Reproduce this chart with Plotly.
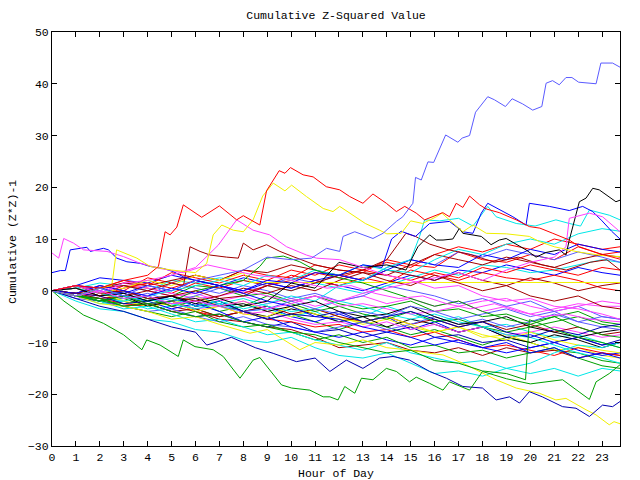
import plotly.graph_objects as go

# ---------------- data (hours, cumulative z^2-1 values) ----------------
hours = [0, 1, 2, 3, 4, 5, 6, 7, 8, 9, 10, 11, 12, 13, 14, 15, 16, 17, 18, 19, 20, 21, 22, 23, 23.75]
x_ticks = list(range(0, 24))
y_ticks = [-30, -20, -10, 0, 10, 20, 30, 40, 50]

# distinctive runs
a_x = [0, 1, 2, 3, 4, 5, 6, 7, 8, 9, 10, 10.85, 11.48, 12.03, 12.17, 12.66, 13.42, 13.84, 14.4, 14.67, 15.09,
       15.2, 15.44, 15.72, 15.96, 16.46, 16.97, 17.15, 17.46, 17.71, 18.22, 18.5, 18.96, 19.24, 19.68, 20.1,
       20.48, 20.66, 20.93, 21.21, 21.49, 21.74, 22.02, 22.75, 22.95, 23.44, 23.75]
a_y = [0, -1, 0.5, -1, 1, 0, 2, 3, 4, 6.5, 6, 6.3, 8.2, 7.6, 10.5, 11.4, 10.1, 11.1, 13.4, 14.3, 16.9,
       21.9, 21.4, 24.9, 24.8, 30.1, 28.7, 29.5, 30.0, 34.5, 37.5, 36.9, 35.6, 37.1, 36.1, 34.9,
       35.6, 40.1, 40.6, 39.8, 41.2, 41.2, 40.3, 40.0, 44.0, 44.0, 43.2]

b_x = [0, 1, 2, 3, 4, 4.45, 4.73, 4.94, 5.22, 5.49, 6.26, 7.0, 7.72, 8.0, 8.69, 8.97, 9.5, 9.74, 9.97, 10.5,
       10.92, 11.47, 12.03, 12.45, 13.0, 13.42, 13.98, 14.4, 14.75, 15.23, 15.58, 16.34, 16.62, 16.9, 17.18,
       17.46, 17.88, 18.16, 18.7, 19.41, 19.96, 20.4, 20.94, 21.63, 22.05, 22.88, 23.75]
b_y = [0, 1, 0.5, 2, 3, 4.7, 11.4, 10.8, 12.3, 16.6, 14.2, 16.4, 13.7, 14.5, 12.7, 19.3, 23.2, 22.7, 23.8, 22.4,
       22.0, 20.1, 19.5, 18.2, 16.9, 18.7, 16.9, 15.3, 16.3, 15.0, 13.7, 15.1, 14.3, 16.9, 16.1,
       18.3, 16.6, 15.8, 15.1, 13.7, 12.4, 12.1, 11.1, 9.8, 8.5, 7.2, 6.1]

c_x = [0, 1, 2, 2.5, 2.7, 3.55, 4.1, 5, 6, 6.47, 6.74, 7.1, 7.58, 8.0, 8.41, 8.81, 9.25, 9.74, 10.02, 10.64,
       11.34, 11.75, 12.03, 12.45, 13.1, 13.7, 14.0, 14.6, 15.0, 15.5, 16.07, 16.3, 17.18, 17.6, 18.16, 19.0,
       19.96, 20.38, 21, 22, 23, 23.75]
c_y = [0, -1, 0.5, 1, 7.9, 6.3, 4.7, 4, 3.5, 5.3, 10.8, 12.7, 11.7, 11.4, 13.7, 18.3, 20.8, 19.3, 20.4, 18.2,
       15.9, 15.3, 16.3, 15.0, 13.0, 11.7, 11.0, 11.1, 13.5, 13.0, 14.3, 15.0, 11.4, 12.7, 11.1, 11.0,
       10.5, 9.5, 8.5, 7.5, 6.8, 6.6]

d_x = [0, 0.28, 0.49, 0.9, 1.32, 2.3, 2.99, 3.69, 4.52, 5.5, 6.5, 7.5, 8.5, 9.5, 10.5, 11.5, 12.5, 13.5, 14.5,
       15.5, 16.5, 17.5, 18.5, 19.5, 20.5, 21.5, 22.5, 23.75]
d_y = [7.3, 6.3, 10.1, 9.2, 7.9, 7.6, 6.6, 5.3, 4.3, 3.5, 5, 4, 3, 2.5, 1.5, 0.5, 1, -0.5, -1.5,
       -1, -2.5, -3.5, -2.5, -4, -5, -4.5, -5.5, -6]

e_x = [0, 1, 2, 3, 4, 5, 6, 6.95, 7.72, 8.41, 9.1, 9.81, 10.64, 11.06, 12.03, 13, 14, 15, 16, 17, 18, 19, 20,
       21, 22, 23, 23.75]
e_y = [0, 1, -0.5, 1.5, 2, 3, 4.5, 8.8, 13.7, 11.7, 10.8, 8.5, 6.9, 6.3, 6.0, 4.5, 3, 2, 0.5, 1, -1, -2, -1.5,
       -3, -3.5, -4.5, -5.5]

f_x = [0, 1, 2, 3, 4, 5, 6, 7, 8, 9, 10, 11, 12, 13, 14, 15, 16, 17, 18, 19, 20, 21, 21.49, 21.63, 22.47,
       23.02, 23.75]
f_y = [0, -1, 0, -1.5, -1, -2.5, -2, -3, -2, -3.5, -2.5, -1, -2, -0.5, 0.5, 1.5, 2.5, 3.5, 2, 4, 5.5, 6.5,
       8.5, 14.0, 15.0, 14.3, 11.4]

g_x = [0, 1, 2, 3, 4, 5, 6, 7, 8, 9, 10, 11, 12, 13, 14, 14.8, 15.3, 15.79, 16.07, 16.35, 16.76, 17.04, 17.18,
       17.6, 17.95, 18.36, 18.7, 18.99, 19.41, 19.82, 20.24, 20.66, 21.21, 21.49, 21.63, 21.91, 22.05, 22.33,
       22.61, 22.88, 23.3, 23.58, 23.75]
g_y = [0, 0.5, -1, -0.5, -2, -1, -2.5, -1.5, -3, -2, 1.5, 0.5, 5.5, 4.5, 5, 4, 8.5, 10.8, 9.8, 9.8, 10.0,
       12.1, 11.1, 10.8, 10.5, 8.9, 9.8, 10.1, 8.9, 7.9, 6.5, 7.4, 7.9, 6.9, 9.8, 15.0, 17.2, 17.9, 19.8, 19.5,
       18.2, 17.2, 17.5]

h_x = [0, 0.35, 0.56, 0.76, 1.18, 1.46, 1.6, 1.88, 2.15, 2.36, 2.71, 3.13, 3.69, 4.1, 4.66, 5.07, 5.49, 6, 7,
       8, 9, 10, 11, 12, 13, 14, 15, 16, 17, 18, 19, 20, 21, 22, 23, 23.75]
h_y = [3.5, 3.9, 3.9, 7.9, 8.2, 8.4, 7.6, 7.9, 8.2, 7.9, 6.3, 5.6, 5.3, 4.7, 4.3, 3.7, 2.7, 2, 1, -0.5, -2,
       -3, -5, -5.5, -7, -8, -9, -10.5, -9.5, -11, -10, -12, -11, -13, -12, -13]

i_x = [0, 1, 2, 3, 4, 5, 6, 7, 8, 9, 10, 11, 12, 13, 13.8, 14.2, 14.6, 15.2, 15.79, 16.62, 17.18, 17.6, 17.95,
       18.22, 19.27, 19.82, 19.96, 20.8, 21.63, 22.19, 22.61, 23, 23.4, 23.75]
i_y = [0, -0.5, 1, 0, -1, 0.5, -0.5, 1, 0, 2, 1.5, 3.5, 3, 5, 4.5, 10, 11.5, 10.5, 13.0, 13.4, 11.4, 11.1, 15,
       16.9, 14.3, 12.7, 16.9, 16.3, 15.5, 16.3, 15.3, 13.5, 11.5, 10]

j_x = [0, 1, 2, 3, 4, 5, 6, 7, 8, 9, 10, 11, 12, 13, 14, 15, 15.37, 15.58, 16.2, 17, 17.6, 18.22, 18.57, 19.41,
       20.2, 21.07, 21.63, 22.1, 22.47, 23.3, 23.75]
j_y = [0, -1, 0.5, -1, -2, -1.5, -3, -2, -3.5, -2.5, -1, -2, 1, 2, 4.5, 6, 10.5, 13.7, 13.5, 14, 12.5, 16.3,
       14.3, 13.0, 12.5, 13.7, 13.0, 12.5, 15.6, 14.6, 13.7]

k_x = [0, 1, 2, 3, 4, 5, 5.5, 5.77, 6.19, 6.61, 7.3, 7.79, 8.0, 8.41, 8.97, 9.53, 10.08, 11, 12, 13, 14, 15,
       16, 17, 18, 19, 20, 21, 22, 23, 23.75]
k_y = [0, -0.5, 0.5, 1, 0, 1.5, 1, 8.5, 7.6, 6.9, 6.5, 6.3, 9.2, 7.9, 8.9, 7.6, 6.6, 5, 4, 3.5, 2, 1, 3, 1.5,
       0, 1, -1, -2, -1, -3, -3.5]

l_x = [0, 1, 2, 3, 4, 5, 6, 7, 8, 9, 10, 11, 12, 13, 14, 14.8, 15.2, 15.8, 16.5, 17.5, 18.5, 19.5, 20.5, 21.5,
       22.5, 23.2, 23.75]
l_y = [0, 1, -0.5, 0, -1.5, -1, 0, -1.5, -1, 1, 0, 1.5, 3, 4, 6, 11.1, 10.5, 9, 8, 7, 5.5, 6.5, 5, 4, 5.5, 6, 4]

m_x = [0, 1, 2, 3, 4, 5, 6, 7, 8, 8.69, 8.97, 9.67, 10.36, 11, 12, 13, 14, 15, 16, 17, 18, 19, 20, 21, 22, 23,
       23.75]
m_y = [0, -1, -2, -1, -2.5, -2, 0, 1, 2, 4.7, 6.3, 6.7, 5.6, 4, 2.5, 1.5, 0, -1.5, -3, -2, -4, -5.5, -6.5, -5,
       -7, -8.5, -9]

n_x = [0, 1, 2, 3, 4, 5, 6, 7, 8, 9, 10, 11, 12, 13, 14, 15, 16, 17, 18, 19, 19.8, 19.96, 20.5, 21, 22, 23,
       23.75]
n_y = [0, -1, -1.5, -3, -2.5, -4, -5, -4.5, -6, -7, -8, -8.5, -10, -11, -12, -11.5, -13.5, -14, -15.5, -16,
       -17.2, -5.6, -6.5, -7.5, -9, -10, -11]

o_x = [0, 0.5, 1.32, 2.15, 2.99, 3.27, 3.76, 3.96, 4.52, 5.28, 5.49, 5.98, 6.74, 7.16, 7.86, 8.41, 8.69, 9.6,
       10.02, 10.78, 11.34, 11.62, 11.96, 12.24, 12.66, 12.94, 13.42, 13.98, 14.4, 14.95, 15.23, 15.79, 16.35,
       16.62, 17.46, 18.0, 19, 20, 21.35, 22.47, 22.75, 23.3, 23.75]
o_y = [0, -2, -4.7, -6.3, -8.5, -9.5, -11.4, -9.5, -10.5, -12.7, -9.5, -10.8, -11.4, -12.7, -16.9, -13.4, -12.9,
       -18.2, -18.8, -19.2, -20.5, -20.5, -21.1, -18.5, -19.8, -16.9, -17.2, -15.0, -15.6, -17.6, -16.7, -17.9,
       -19.2, -17.6, -19.2, -15.6, -17, -18, -17.2, -21, -17.6, -16, -14.3]

p_x = [0, 1, 2, 3, 4, 5, 6, 6.47, 7.5, 8.5, 9.25, 10.22, 11, 11.62, 12.31, 13.0, 13.7, 14.26, 14.95, 15.79,
       16.49, 17.18, 18.0, 18.57, 19.13, 19.55, 19.96, 20.5, 21.35, 21.91, 22.47, 23.02, 23.44, 23.75]
p_y = [0, -1.5, -3, -4, -5.5, -7, -8, -10.5, -9, -11, -12.1, -13.7, -13, -15.6, -13.4, -15.0, -13.0, -12.7,
       -13.4, -15.6, -16.9, -18.5, -18.8, -21.1, -20.5, -21.7, -19.5, -20.5, -22.4, -22.7, -24.3, -22.1, -22.4,
       -21.4]

q_x = [0, 1, 2, 3, 4, 5, 6, 7, 8.28, 9, 10.36, 11, 12, 13, 14, 15, 15.79, 16.35, 17.18, 18.57, 19.41, 20.38,
       21.07, 21.49, 22.33, 22.75, 23.3, 23.5, 23.75]
q_y = [0, -1, -2.5, -3, -4, -5.5, -5, -6.5, -8.2, -7.5, -11.4, -10, -10.5, -9.5, -11, -11.5, -12.1, -12.4,
       -14.0, -17.2, -18.8, -19.8, -21.1, -20.8, -23.0, -24.0, -25.9, -25.3, -25.7]

r_x = [0, 1, 2, 3, 4, 5, 6, 7, 8, 8.3, 23.75]
r_y = [0, 1, -0.5, 0.5, 2, 1, 3, 2, 3.5, 1.6, 1.6]

s_y = [0, -2, -3.5, -4, -5.5, -6, -7.5, -8, -9.5, -10, -9, -11, -12.5, -13, -12, -14, -16, -15.5, -16.5, -15,
       -14, -12, -10.5, -11, -10]
t_y = [0, -1, -2, -3.5, -3, -4.5, -6, -5.5, -7, -8.5, -8, -9.5, -10.5, -11.5, -10, -12, -13, -14, -13.5, -15,
       -16, -15, -16.5, -15, -15.5]

# background runs on the hourly grid
bg01 = [0, -0.5, 1, 0, 2.5, 1.5, 3, 2, 4, 3, 2.5, 5, 4, 3.5, 6, 5, 4.5, 7.5, 6, 5.5, 7, 6, 8.5, 7, 7.5]
bg02 = [0, -1, -2, -1.5, -3, -2, -3.5, -5, -4, -5.5, -4.5, -6, -7.5, -6, -7, -8.5, -7.5, -9, -10.5, -9, -10, -11.5, -12, -13.5, -14]
bg03 = [0, 1, 0, -1, -2, -1, -3, -2.5, -4, -3, -5, -6, -4.5, -6, -5, -7.5, -6, -8, -7, -9, -8.5, -10, -9, -10.5, -10]
bg04 = [0, 0.5, -0.5, 1, 0, -1, -0.5, -2, -1, -2.5, -1.5, -3, -2, -1, -2.5, -1.5, -3, -2, -4, -3, -4.5, -3.5, -2.5, -3, -3]
bg05 = [0, -1, -2.5, -2, -3.5, -3, -1, -2.5, -4, -3.5, -5, -4, -6, -5, -3, -4.5, -6, -5, -7, -6.5, -8, -9, -8.5, -10, -11]
bg06 = [0, -1, -2, -1, -3, -2.5, -1, -3, -2, -4, -5, -3.5, -5, -6.5, -5.5, -7, -8, -7, -9, -8.5, -10, -11.5, -11, -12.5, -13]
bg07 = [0, -1, 0.5, -0.5, -2, -1, -3, -2, -4, -5, -3.5, -4.5, -6, -5, -7, -5.5, -6.5, -8, -7, -9, -10, -8.5, -9.5, -11, -10]
bg08 = [0, 1, -0.5, -1.5, -1, -3, -4, -5.5, -6, -7, -7.5, -9, -11, -10.5, -10, -11.5, -12, -11, -12.5, -11, -12, -11.5, -13, -12, -12.5]
bg09 = [0, -0.5, 1, 0, -1, 1.5, 0.5, -0.5, 1, 0, -1.5, -0.5, -2, -1, 1, 0, -1, -2.5, -1.5, -3, -2, -4, -3, -5, -5.5]
bg10 = [0, -1, -2, -3, -2.5, -4, -5, -4.5, -6, -7, -6, -8, -7.5, -9, -8, -7, -9, -8.5, -10, -9.5, -11, -10, -9, -10.5, -9.5]
bg11 = [0, -1, -1.5, -2.5, -3, -2, -4, -5, -4, -5.5, -6, -7, -6.5, -8, -7.5, -9, -8, -9.5, -11, -10.5, -11.5, -12.5, -11, -12, -12.5]
bg12 = [0, 0.5, -1, 0, -1.5, -1, 1, 0.5, -1, -0.5, -2, -1, -2.5, -3.5, -3, -2, -4, -3.5, -5, -4.5, -6, -5, -4, -6, -6.5]
bg13 = [0, 1, 2.5, 2, 1.5, 3, 2, 1, 2.5, 1.5, 0.5, 2, 1, 0, 1.5, 3, 2, 4, 3.5, 5, 4, 3, 4.5, 3.5, 3]
bg14 = [0, -0.5, -1.5, -1, -2.5, -2, -3.5, -3, -4.5, -4, -5.5, -6.5, -6, -7, -6, -7.5, -6.5, -8, -7, -8.5, -8, -7, -8, -9, -8.5]
bg15 = [0, 0.5, 1.5, 1, 0, 2, 1.5, 2.5, 2, 1, 0, 1.5, 0.5, -0.5, 1, 2.5, 4, 3, 5, 4.5, 3.5, 4, 5, 6, 5.5]
bg16 = [0, -0.5, -1, 1, 0.5, -0.5, 1.5, 0.5, 2, 1, 3, 2, 1, 2.5, 1.5, 4, 3, 2, 3.5, 2.5, 2, 3, 2, 0.5, 0]
bg17 = [0, -1, -2, -3, -2.5, -4, -3.5, -5, -4, -3, -4.5, -3.5, -5, -6, -5, -6.5, -5.5, -7, -6, -7.5, -6.5, -8, -7, -8.5, -8]
bg18 = [0, -1.5, -2, -3, -4, -3.5, -5, -6, -5, -6.5, -7, -8, -7, -6, -7.5, -6.5, -5, -6.5, -5.5, -7, -6, -4.5, -6, -5, -5.5]
bg19 = [0, -0.5, -2, -2.5, -1.5, -3, -2, -4, -3, -1, -2.5, -4, -3, -4.5, -5.5, -4, -6, -5.5, -7, -8, -7, -6, -5, -6.5, -7]
bg20 = [0, -1, 0.5, -1, -2, -3.5, -2.5, -4, -6, -5, -7, -8, -9, -8, -9.5, -10.5, -9, -10, -11, -12, -11, -10, -11.5, -12.5, -12]
bg21 = [0, 0.5, -0.5, -2, -3, -2, -4, -3, -4.5, -5, -3, -4.5, -5.5, -6, -5, -6.5, -8, -7, -8.5, -9.5, -8, -9.5, -10.5, -11.5, -12]
bg22 = [0, 1, 0.5, 2, 1, 3.5, 2.5, 1.5, 3, 2, 4, 3, 5, 4, 3, 2, 3.5, 2.5, 4.5, 3.5, 5, 4, 3, 4.5, 4]
bg23 = [0, -0.5, -1.5, -2, -1, -2.5, -3.5, -2.5, -1.5, -3, -4, -3.5, -2, -3, -4.5, -5.5, -4.5, -6, -7, -8.5, -9, -10.5, -12, -13, -14]
bg24 = [0, 1, 0, 1.5, 0.5, -0.5, -1.5, -1, 0, -1, -2, -1, -3, -2.5, -3.5, -4.5, -4, -3, -2, -1.5, -3, -4, -3, -2, -2.5]
bg25 = [0, -1, -2, -1, -3, -2, -1.5, -3, -2.5, -4, -3, -2, -4, -5, -4.5, -3, -5, -6.5, -6, -5, -7, -8, -9, -8, -7.5]
bg26 = [0, 0.5, -1, 0, -1.5, -2.5, -2, -3, -4, -3.5, -2, -3.5, -4.5, -4, -5, -3, -4, -5.5, -4.5, -3.5, -5, -4, -6, -7, -7.5]
bg27 = [0, -0.5, 0.5, 1.5, 1, 2, 3, 2, 4, 3.5, 5, 4, 3, 2, 4, 3, 2, 3.5, 2, 1, 2.5, 1.5, 0, 1, 1.5]
bg28 = [0, -1, -1.5, -3, -4, -5, -4, -6, -7, -6.5, -8, -9.5, -8.5, -10, -9, -11, -10.5, -12, -11.5, -13, -12, -11, -13, -14.5, -15]
bg29 = [0, -0.5, -1, -2.5, -2, -1, -3, -2, -4, -5.5, -4.5, -5, -4, -6, -5, -4, -5.5, -7, -6, -8, -9, -7.5, -8.5, -7, -6.5]
bg30 = [0, -1, 0, -1.5, -0.5, -2, -1, 0.5, -0.5, 1, 2.5, 1.5, 3, 2, 4.5, 6, 5, 7.5, 6.5, 8, 7, 6, 7.5, 6.5, 5.5]
bg31 = [0, 0.5, -1, 0.5, 1.5, 0.5, 2, 1, -0.5, 1, 2, 3.5, 2.5, 4, 5.5, 4.5, 7, 8.5, 7.5, 9, 8, 10, 9, 8, 8.5]
bg32 = [0, -0.5, -1.5, -1, 0, -1, -2, -1, 0.5, -0.5, 1, 0, 2, 3.5, 3, 5, 7, 6, 5, 6.5, 5.5, 4.5, 6, 7, 6.5]
bg33 = [0, 1, 0.5, -0.5, 1, 0, 2, 1, 0, 1.5, 0.5, 2, 3, 2, 4, 6, 5, 4.5, 7, 6, 8, 7, 9, 8, 7.5]
bg34 = [0, 0.5, -0.5, -1.5, -1, 0, 1, 2, 1, 3, 2, 4, 3, 5, 4, 3.5, 6, 8, 7, 9, 10, 9, 11, 12, 11.5]

# ---------------- styles ----------------
RED, GREEN, BLUE, MAGENTA, CYAN = "#ff0000", "#00a000", "#0000ff", "#ff40ff", "#00e8e8"
YELLOW, BLACK, DARKRED, LIGHTBLUE, NAVY = "#f0f000", "#000000", "#a00000", "#5a5aff", "#0000b0"

runs = [
    (hours, bg01, RED), (hours, bg02, GREEN), (hours, bg03, BLUE), (hours, bg04, MAGENTA),
    (hours, bg05, CYAN), (hours, bg06, YELLOW), (hours, bg07, BLACK), (hours, bg08, DARKRED),
    (hours, bg09, LIGHTBLUE), (hours, bg10, NAVY), (hours, bg11, RED), (hours, bg12, GREEN),
    (hours, bg13, BLUE), (hours, bg14, MAGENTA), (hours, bg15, CYAN), (hours, bg16, RED),
    (hours, bg17, DARKRED), (hours, bg18, LIGHTBLUE), (hours, bg19, GREEN), (hours, bg20, BLUE),
    (hours, bg21, YELLOW), (hours, bg22, RED), (hours, bg23, CYAN), (hours, bg24, MAGENTA),
    (hours, bg25, BLACK), (hours, bg26, LIGHTBLUE), (hours, bg27, DARKRED), (hours, bg28, GREEN),
    (hours, bg29, NAVY), (hours, bg30, LIGHTBLUE), (hours, bg31, RED), (hours, bg32, DARKRED),
    (hours, bg33, BLUE), (hours, bg34, CYAN),
    (hours, s_y, CYAN), (hours, t_y, CYAN),
    (r_x, r_y, YELLOW), (q_x, q_y, YELLOW), (p_x, p_y, NAVY), (o_x, o_y, GREEN),
    (n_x, n_y, GREEN), (m_x, m_y, GREEN), (l_x, l_y, DARKRED), (k_x, k_y, DARKRED),
    (j_x, j_y, CYAN), (i_x, i_y, BLUE), (h_x, h_y, BLUE), (g_x, g_y, BLACK),
    (f_x, f_y, MAGENTA), (e_x, e_y, MAGENTA), (d_x, d_y, MAGENTA), (c_x, c_y, YELLOW),
    (b_x, b_y, RED), (a_x, a_y, LIGHTBLUE),
]

fig = go.Figure()
for xs, ys, col in runs:
    fig.add_trace(go.Scatter(x=xs, y=ys, mode="lines", line=dict(color=col, width=1),
                             showlegend=False, hoverinfo="skip"))

FONT = "Liberation Mono, DejaVu Sans Mono, monospace"
axis_common = dict(showline=True, linecolor="black", linewidth=1, mirror="ticks", ticks="inside",
                   ticklen=5, tickcolor="black", tickwidth=1, showgrid=False, zeroline=False,
                   tickfont=dict(family=FONT, size=11.5, color="black"))

fig.update_layout(
    width=640, height=480,
    margin=dict(l=52, r=20, t=32, b=34),
    paper_bgcolor="white", plot_bgcolor="white",
    font=dict(family=FONT, size=11.5, color="black"),
    title=dict(text="Cumulative Z-Squared Value", x=(52 + 620) / 2 / 640, xanchor="center",
               y=1 - 15 / 480, yanchor="middle", font=dict(family=FONT, size=11.5)),
    xaxis=dict(range=[0, 23.75], tickvals=x_ticks, **axis_common),
    yaxis=dict(range=[-30, 50], tickvals=y_ticks, **axis_common),
    annotations=[
        dict(text="Hour of Day", xref="paper", yref="paper", x=0.5, y=(446 - 473) / 414,
             xanchor="center", yanchor="middle", showarrow=False, font=dict(family=FONT, size=11.5)),
        dict(text="Cumulative (Z*Z)-1", xref="paper", yref="paper", x=(12 - 52) / 568, y=(446 - 242) / 414,
             xanchor="center", yanchor="middle", textangle=-90, showarrow=False,
             font=dict(family=FONT, size=11.5)),
    ],
)

fig.write_html("out.html")
